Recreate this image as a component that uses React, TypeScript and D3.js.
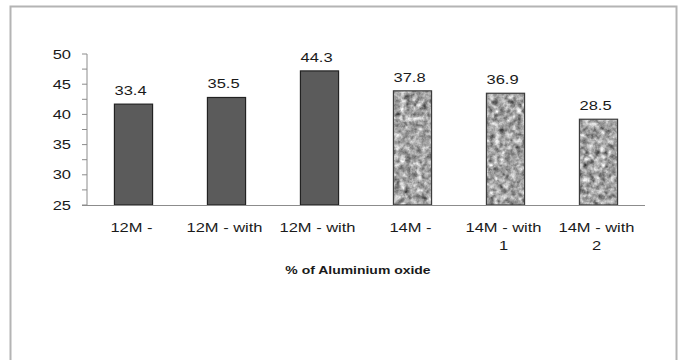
import React from "react";
import * as d3 from "d3";

const categories = ["12M -", "12M - with", "12M - with b", "14M -", "14M - with 1", "14M - with 2"];
const categoryLines = [["12M -"], ["12M - with"], ["12M - with"], ["14M -"], ["14M - with", "1"], ["14M - with", "2"]];
const barValues = [41.7, 42.8, 47.2, 43.9, 43.5, 39.2];
const labelValues = ["33.4", "35.5", "44.3", "37.8", "36.9", "28.5"];
const textured = [false, false, false, true, true, true];
const yTicks = [25, 30, 35, 40, 45, 50];
const yMinorTicks = [27.5, 32.5, 37.5, 42.5, 47.5];
const xTitle = "% of Aluminium oxide";

const W = 683;
const H = 360;
const plot = { left: 87, right: 645, top: 54, bottom: 205 };
const SX = 1.27;
const FONT = "'Liberation Sans', Arial, sans-serif";

function T({ x, y, anchor = "middle", size = 13, weight = "normal", children }: any) {
  return (
    <text
      transform={`translate(${x},${y}) scale(${SX},1)`}
      textAnchor={anchor}
      fontSize={size}
      fontWeight={weight}
      fontFamily={FONT}
      fill="#1a1a1a"
    >
      {children}
    </text>
  );
}

export default function App() {
  const x = d3.scaleBand<string>().domain(categories).range([plot.left, plot.right]).paddingInner(0.59).paddingOuter(0.295);
  const y = d3.scaleLinear().domain([25, 50]).range([plot.bottom, plot.top]);
  const bw = x.bandwidth();

  return (
    <svg width={W} height={H} style={{ position: "absolute", left: 0, top: 0, background: "#fff" }}>
      <defs>
        <filter
          id="granite"
          x="0"
          y="0"
          width="100%"
          height="100%"
          filterUnits="objectBoundingBox"
          colorInterpolationFilters="sRGB"
        >
          <feTurbulence type="fractalNoise" baseFrequency="0.18" numOctaves="3" seed="7" result="noise" />
          <feColorMatrix
            in="noise"
            type="matrix"
            values="0.33 0.33 0.33 0 0  0.33 0.33 0.33 0 0  0.33 0.33 0.33 0 0  0 0 0 0 1"
            result="gray"
          />
          <feComponentTransfer in="gray" result="contrast">
            <feFuncR type="linear" slope="1.7" intercept="-0.2" />
            <feFuncG type="linear" slope="1.7" intercept="-0.2" />
            <feFuncB type="linear" slope="1.7" intercept="-0.2" />
          </feComponentTransfer>
          <feComposite in="contrast" in2="SourceAlpha" operator="in" />
        </filter>
      </defs>

      <rect x={10.5} y={6.5} width={666} height={360} fill="#fff" stroke="#b4b4b4" strokeWidth={2} />

      {/* y axis */}
      <line x1={plot.left} x2={plot.left} y1={plot.top} y2={plot.bottom} stroke="#8c8c8c" strokeWidth={1} />
      {yTicks.concat(yMinorTicks).map((t) => (
        <line key={"t" + t} x1={plot.left - 5} x2={plot.left} y1={y(t)} y2={y(t)} stroke="#8c8c8c" strokeWidth={1} />
      ))}
      {yTicks.map((t) => (
        <T key={"l" + t} x={71} y={y(t) + 4.5} anchor="end">
          {t}
        </T>
      ))}

      {/* bars */}
      {categories.map((c, i) => {
        const bx = x(c)!;
        const by = y(barValues[i]);
        const bh = y(25) - by;
        return (
          <g key={c}>
            {textured[i] ? (
              <rect x={bx} y={by} width={bw} height={bh} fill="#999" filter="url(#granite)" />
            ) : null}
            <rect
              x={bx}
              y={by}
              width={bw}
              height={bh}
              fill={textured[i] ? "none" : "#5b5b5b"}
              stroke={textured[i] ? "#3c3c3c" : "#222"}
              strokeWidth={1.2}
            />
            <T x={bx + bw / 2 - 3} y={by - 9}>
              {labelValues[i]}
            </T>
          </g>
        );
      })}

      {/* x axis */}
      <line x1={plot.left - 5} x2={plot.right} y1={plot.bottom + 0.5} y2={plot.bottom + 0.5} stroke="#8c8c8c" strokeWidth={1} />

      {categories.map((c, i) =>
        categoryLines[i].map((ln, j) => (
          <T key={c + j} x={x(c)! + bw / 2 - 2} y={232 + j * 17.5}>
            {ln}
          </T>
        ))
      )}

      <T x={358} y={274} size={11} weight="bold">
        {xTitle}
      </T>
    </svg>
  );
}
